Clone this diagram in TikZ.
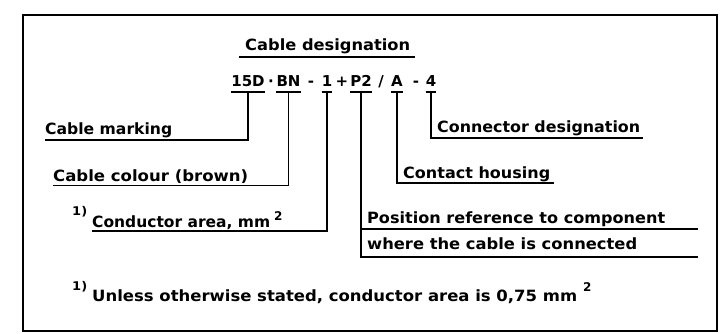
\documentclass[tikz,border=0pt]{standalone}
\usepackage{fontspec}
\setmainfont{DejaVu Sans}
\usepackage{graphicx}
\newsavebox\fitbox
\newcommand\fitw[2]{\sbox\fitbox{#2}\pgfmathsetmacro\fitf{#1/\the\wd\fitbox}\scalebox{\fitf}[1]{\usebox\fitbox}}
\begin{document}
\begin{tikzpicture}[x=1pt,y=-1pt,
  txt/.style={inner sep=0pt, anchor=base west, font=\fontsize{15.5}{17}\selectfont\bfseries},
  tok/.style={inner sep=0pt, anchor=base, font=\fontsize{15}{17}\selectfont\bfseries},
  supr/.style={inner sep=0pt, anchor=base west, font=\fontsize{12}{13}\selectfont\bfseries},
  lead/.style={line width=1.5pt},
  bar/.style={line width=2pt},
  frame/.style={line width=2.5pt}]
\useasboundingbox (0,0) rectangle (720,334);
\draw[frame] (23,15) rectangle (717,331);

% title
\node[txt] (title) at (245,51) {\fitw{165}{Cable designation}};
\draw[lead] (239,57) coordinate (tl) -- (415,57) coordinate (tr);

% code tokens
\node[tok] (t15) at (248,87) {15D};
\node[tok] (d1) at (271,87) {·};
\node[tok] (tbn) at (288.5,87) {BN};
\node[tok] (d2) at (311,87) {-};
\node[tok] (t1) at (327,87) {1};
\node[tok] (d3) at (342,87) {+};
\node[tok] (tp2) at (361,87) {P2};
\node[tok] (d4) at (381,87) {/};
\node[tok] (ta) at (397,87) {A};
\node[tok] (d5) at (416,87) {-};
\node[tok] (t4) at (431,87) {4};

% underbars and their mid points
\foreach \t in {t15,tbn,t1,tp2,ta,t4}{
  \draw[bar] ([yshift=-5pt]\t.base west) -- ([yshift=-5pt]\t.base east);
  \path ([yshift=-5pt]\t.base) coordinate (b\t);
}

% labels
\node[txt] (lmark) at (45,135) {\fitw{127}{Cable marking}};
\node[txt] (lcol) at (53,181) {\fitw{195}{Cable colour (brown)}};
\node[supr] (f1) at (72,215) {\fitw{15}{1)}};
\node[txt] (lcond) at (92,227) {\fitw{178}{Conductor area, mm}};
\node[supr] (s1) at (274,220) {2};
\node[txt] (lconn) at (437,132) {\fitw{203}{Connector designation}};
\node[txt] (lhous) at (403,178) {\fitw{147}{Contact housing}};
\node[txt] (lpos1) at (367,223) {\fitw{298}{Position reference to component}};
\node[txt] (lpos2) at (367,249) {\fitw{270}{where the cable is connected}};
\node[supr] (f2) at (72,290) {\fitw{15}{1)}};
\node[txt] (lnote) at (92,301) {\fitw{485}{Unless otherwise stated, conductor area is 0,75 mm}};
\node[supr] (s2) at (583,291) {2};

% leader end coordinates
\coordinate (um) at (45,140);
\coordinate (uc) at (53,185.5);
\coordinate (ud) at (92,231);
\coordinate (up1) at (698,229);
\coordinate (up2) at (698,257);
\coordinate (uh) at (554,183);
\coordinate (un) at (643,138);

% leaders
\draw[lead] (bt15) -- (bt15 |- um) -- (um);
\draw[lead] (btbn) -- (btbn |- uc) -- (uc);
\draw[lead] (bt1) -- (bt1 |- ud) -- (ud);
\draw[lead] (btp2) -- (btp2 |- up2) -- (up2);
\draw[lead] (btp2 |- up1) -- (up1);
\draw[lead] (bta) -- (bta |- uh) -- (uh);
\draw[lead] (bt4) -- (bt4 |- un) -- (un);
\end{tikzpicture}
\end{document}
